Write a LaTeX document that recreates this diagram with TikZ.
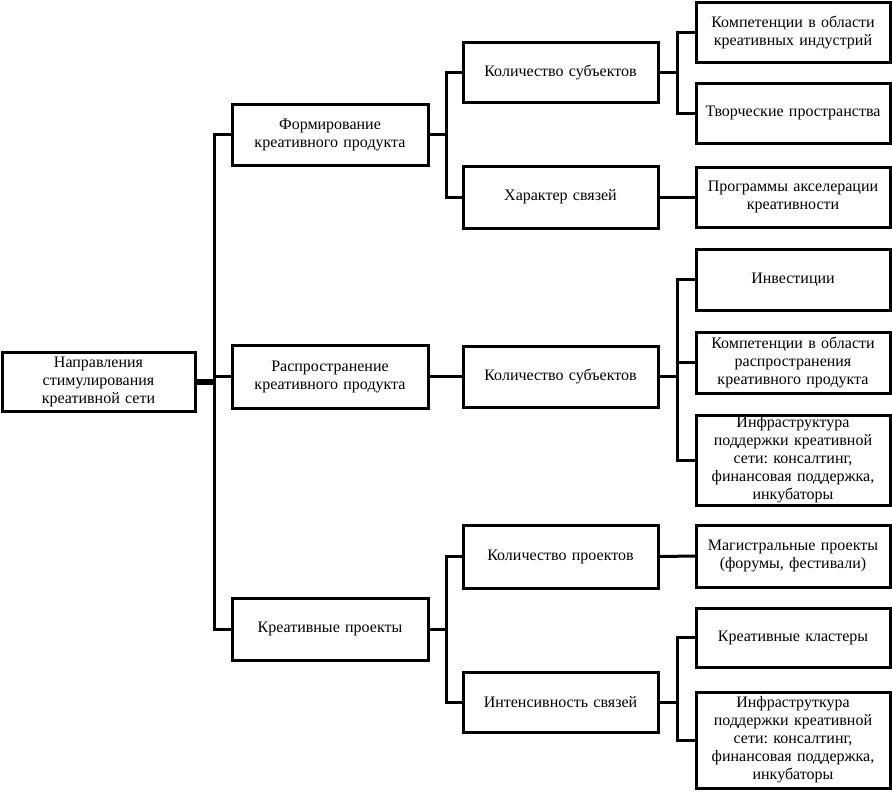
\documentclass[tikz,border=0pt]{standalone}
\usepackage{fontspec}
\setmainfont{Liberation Serif}
\frenchspacing
\begin{document}
\begin{tikzpicture}[x=1pt,y=-1pt,
  box/.style={draw,line width=3pt,rectangle,inner sep=1pt,align=center,
    font=\fontsize{16}{18}\selectfont},
  lone/.style={box,minimum width=193pt,minimum height=59pt,text width=187pt},
  lfirst/.style={box,minimum width=196pt,text width=190pt},
  lsecond/.style={box,minimum width=195pt,text width=189pt},
  lthird/.style={box,minimum width=194pt,text width=190pt},
  link/.style={line width=3pt,line cap=rect,line join=miter},
  thick link/.style={line width=6pt}]
\useasboundingbox (0,0) rectangle (892,796);
% root
\node[lone] (root) at (98.5,381.5) {Направления\\стимулирования\\креативной сети};
% level 1
\node[lfirst,minimum height=61pt] (F) at (330,134.5) {Формирование\\креативного продукта};
\node[lfirst,minimum height=63pt] (R) at (330,376.5) {Распространение\\креативного продукта};
\node[lfirst,minimum height=62pt] (K) at (330,629) {Креативные проекты};
% level 2
\node[lsecond,minimum height=60pt] (KS1) at (560.5,72) {Количество субъектов};
\node[lsecond,minimum height=62pt] (HS) at (560.5,197) {Характер связей};
\node[lsecond,minimum height=61pt] (KS2) at (560.5,376.5) {Количество субъектов};
\node[lsecond,minimum height=63pt] (KP) at (560.5,556.5) {Количество проектов};
\node[lsecond,minimum height=60pt] (IS) at (560.5,702) {Интенсивность связей};
% level 3
\node[lthird,minimum height=60pt] (C1) at (793,32) {Компетенции в области\\креативных индустрий};
\node[lthird,minimum height=60pt] (T) at (793,113) {Творческие пространства};
\node[lthird,minimum height=60pt] (P) at (793,197) {Программы акселерации\\креативности};
\node[lthird,minimum height=61pt] (I) at (793,279.5) {Инвестиции};
\node[lthird,minimum height=61pt] (C2) at (793,362.5) {Компетенции в области\\распространения\\креативного продукта};
\node[lthird,minimum height=90pt] (Inf1) at (793,460) {Инфраструктура\\поддержки креативной\\сети: консалтинг,\\финансовая поддержка,\\инкубаторы};
\node[lthird,minimum height=62pt] (M) at (793,556) {Магистральные проекты\\(форумы, фестивали)};
\node[lthird,minimum height=59pt] (KK) at (793,637.5) {Креативные кластеры};
\node[lthird,minimum height=96pt] (Inf2) at (793,740) {Инфраструткура\\поддержки креативной\\сети: консалтинг,\\финансовая поддержка,\\инкубаторы};
% bus coordinates
\coordinate (b1) at (214,0);
\coordinate (b2) at (446,0);
\coordinate (b3) at (677,0);
% root to level 1
\draw[thick link] (root.east) -- (root.east -| b1);
\draw[link] (F.west) -- (F.west -| b1) -- (K.west -| b1) -- (K.west);
\draw[link] (R.west) -- (R.west -| b1);
% level 1 to level 2
\draw[link] (F.east) -- (F.east -| b2);
\draw[link] (KS1.west) -- (KS1.west -| b2) -- (HS.west -| b2) -- (HS.west);
\draw[link] (R.east) -- (KS2.west);
\draw[link] (K.east) -- (K.east -| b2);
\draw[link] (KP.west) -- (KP.west -| b2) -- (IS.west -| b2) -- (IS.west);
% level 2 to level 3
\draw[link] (KS1.east) -- (KS1.east -| b3);
\draw[link] (C1.west) -- (C1.west -| b3) -- (T.west -| b3) -- (T.west);
\draw[link] (HS.east) -- (P.west);
\draw[link] (KS2.east) -- (KS2.east -| b3);
\draw[link] (I.west) -- (I.west -| b3) -- (Inf1.west -| b3) -- (Inf1.west);
\draw[link] (C2.west) -- (C2.west -| b3);
\draw[link] (KP.east) -- (M.west);
\draw[link] (IS.east) -- (IS.east -| b3);
\draw[link] (KK.west) -- (KK.west -| b3) -- (Inf2.west -| b3) -- (Inf2.west);
\end{tikzpicture}
\end{document}
